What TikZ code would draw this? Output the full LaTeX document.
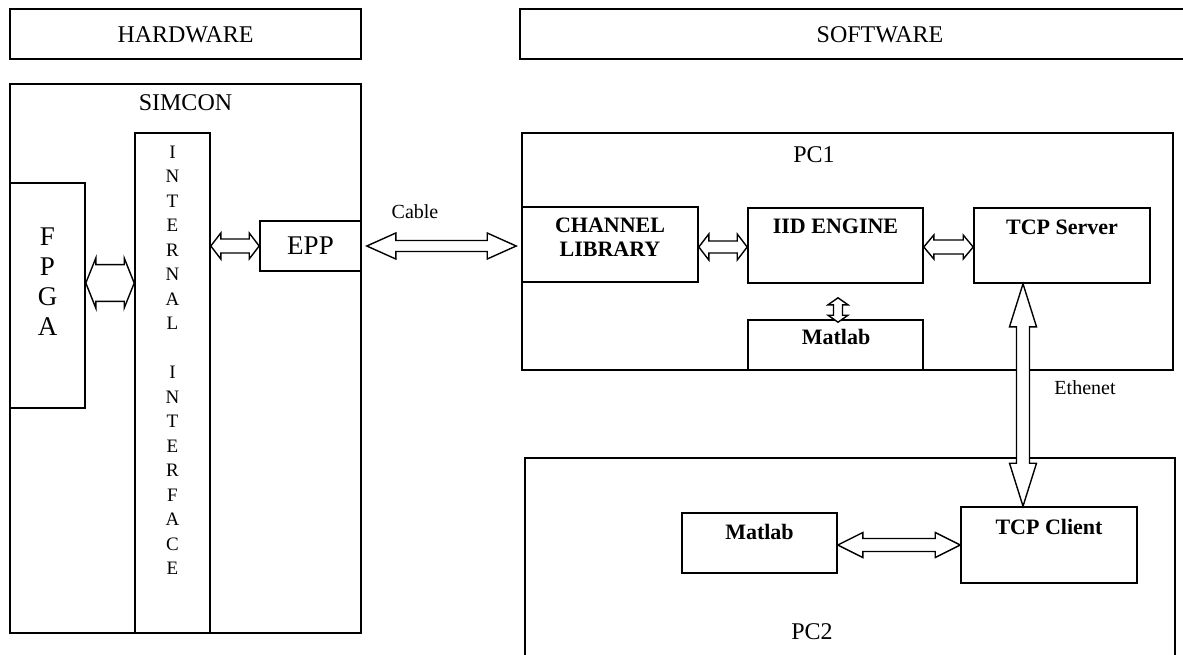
\documentclass[tikz,border=0pt]{standalone}
\usepackage{fontspec}
\setmainfont{Liberation Serif}
\usetikzlibrary{calc,fit}
\tikzset{
  box/.style={draw, line width=0.8pt, inner sep=0pt},
  fat/.style={draw, line width=0.7pt, fill=white, line join=miter},
  lbl/.style={inner sep=0pt, font=\fontsize{12}{14}\selectfont},
  big/.style={inner sep=0pt, align=center, font=\fontsize{13.5}{15}\selectfont},
  vert/.style={inner sep=0pt, align=center, font=\fontsize{9.5}{12.25}\selectfont},
  blbl/.style={inner sep=0pt, align=center, font=\fontsize{11}{12}\selectfont\bfseries},
  small/.style={inner sep=0pt, font=\fontsize{10}{12}\selectfont},
}
% horizontal hollow double arrow: start (left), end (right), half shaft, half head, head length
\newcommand\harr[5]{\path[fat] let \p1=(#1), \p2=(#2) in
  (\x1,\y1) -- (\x1+#5,\y1+#4) -- (\x1+#5,\y1+#3) -- (\x2-#5,\y1+#3) -- (\x2-#5,\y1+#4)
  -- (\x2,\y1) -- (\x2-#5,\y1-#4) -- (\x2-#5,\y1-#3) -- (\x1+#5,\y1-#3) -- (\x1+#5,\y1-#4) -- cycle;}
% vertical hollow double arrow: start (top), end (bottom)
\newcommand\varr[5]{\path[fat] let \p1=(#1), \p2=(#2) in
  (\x1,\y1) -- (\x1+#4,\y1-#5) -- (\x1+#3,\y1-#5) -- (\x1+#3,\y2+#5) -- (\x1+#4,\y2+#5)
  -- (\x1,\y2) -- (\x1-#4,\y2+#5) -- (\x1-#3,\y2+#5) -- (\x1-#3,\y1-#5) -- (\x1-#4,\y1-#5) -- cycle;}
\begin{document}
\begin{tikzpicture}[x=0.5pt, y=-0.5pt]
\useasboundingbox (0,0) rectangle (1183,654);
% boxes
\node[box, fit={(10,9) (361,59)}] (hw) {};
\node[box, fit={(520,9) (1195,59)}] (sw) {};
\node[box, fit={(10,84) (361,633)}] (simcon) {};
\node[box, fit={(135,133) (210,633)}] (ii) {};
\node[box, fit={(10,183) (85,408)}] (fpga) {};
\node[box, fit={(260,221) (361,271)}] (epp) {};
\node[box, fit={(522,133) (1173,370)}] (pc1) {};
\node[box, fit={(522,207) (698,282)}] (cl) {};
\node[box, fit={(748,208) (923,283)}] (iid) {};
\node[box, fit={(974,208) (1150,283)}] (tcps) {};
\node[box, fit={(748,320) (923,370)}] (mat1) {};
\node[box, fit={(525,458) (1175,668)}] (pc2) {};
\node[box, fit={(682,513) (837,573)}] (mat2) {};
\node[box, fit={(961,507) (1137,583)}] (tcpc) {};
% texts
\node[lbl] (hwt) at (185.5,35) {HARDWARE};
\node[lbl] (swt) at (880,35) {SOFTWARE};
\node[lbl] (simt) at (185.5,103) {SIMCON};
\node[lbl] (pc1t) at (814,155) {PC1};
\node[lbl] (pc2t) at (812,632) {PC2};
\node[big] (fpgat) at (47.5,282) {F\\P\\G\\A};
\node[vert] (iit) at (172.5,360.5) {I\\N\\T\\E\\R\\N\\A\\L\\\mbox{}\\I\\N\\T\\E\\R\\F\\A\\C\\E};
\node[big] (eppt) at (310.5,246) {EPP};
\node[small] (cable) at (415,212) {Cable};
\node[small] (eth) at (1085,388) {Ethenet};
\node[blbl] (clt) at (610,237) {CHANNEL\\LIBRARY};
\node[blbl] (iidt) at (835.5,226) {IID ENGINE};
\node[blbl] (tcpst) at (1062,227) {TCP Server};
\node[blbl] (mat1t) at (836,337) {Matlab};
\node[blbl] (mat2t) at (759.5,532) {Matlab};
\node[blbl] (tcpct) at (1049,527) {TCP Client};
% connectors
\harr{fpga.east |- 0,283}{ii.west |- 0,283}{9.2pt}{12.5pt}{5pt}
\harr{ii.east |- 0,246}{epp.west |- 0,246}{3.5pt}{6.5pt}{5pt}
\harr{$(epp.east)+(5,0)$}{$(pc1.west |- epp.east)+(-5,0)$}{2.75pt}{6.5pt}{14.5pt}
\harr{cl.east |- 0,247}{iid.west |- 0,247}{3pt}{6.5pt}{5pt}
\harr{iid.east |- 0,247}{tcps.west |- 0,247}{3.5pt}{6pt}{5pt}
\varr{$(iid.south)+(2.5,14)$}{$(mat1.north)+(2.5,3)$}{2.25pt}{5pt}{3.5pt}
\varr{tcps.south -| 1023,0}{tcpc.north -| 1023,0}{3.25pt}{6.75pt}{21.5pt}
\harr{mat2.east |- 0,545}{tcpc.west |- 0,545}{3.25pt}{6.25pt}{12.5pt}
\end{tikzpicture}
\end{document}
